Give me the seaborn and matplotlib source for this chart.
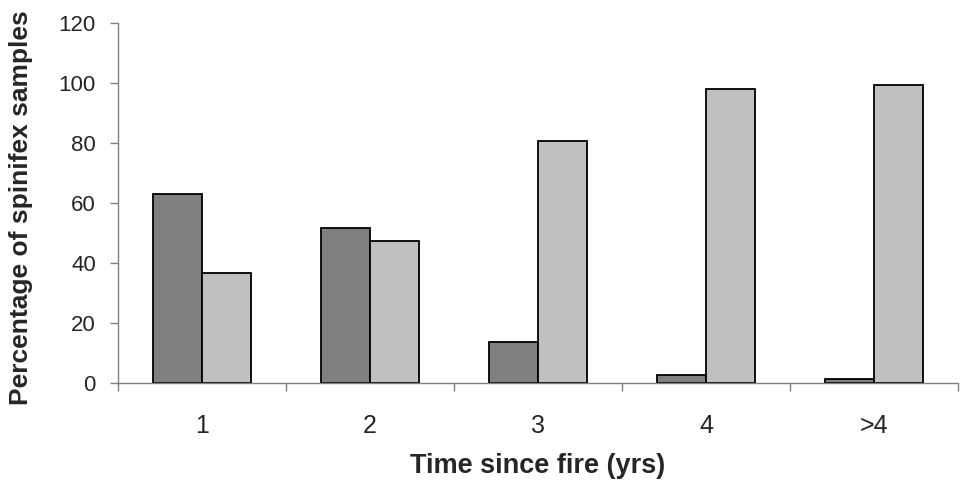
import numpy as np
import pandas as pd
import seaborn as sns
import matplotlib.pyplot as plt
from matplotlib.ticker import FixedLocator

# data
categories = ['1', '2', '3', '4', '>4']
series_names = ['Series 1', 'Series 2']
series1 = [63.1, 51.8, 13.7, 2.6, 1.3]
series2 = [36.6, 47.2, 80.5, 97.9, 99.2]
y_ticks = [0, 20, 40, 60, 80, 100, 120]

df = pd.DataFrame({
    'time': categories * 2,
    'series': [series_names[0]] * len(categories) + [series_names[1]] * len(categories),
    'pct': series1 + series2,
})

sns.set_style('white')
plt.rcParams['font.family'] = ['Liberation Sans', 'DejaVu Sans']

fig = plt.figure(figsize=(9.6, 4.88), dpi=100)
ax = fig.add_axes([0.123, 0.215, 0.875, 0.7385])

sns.barplot(data=df, x='time', y='pct', hue='series', order=categories,
            hue_order=series_names, palette=['#808080', '#C0C0C0'],
            width=0.586, gap=0, edgecolor='black', linewidth=1.3,
            saturation=1, legend=False, ax=ax)

ax.set_ylim(0, 120)
ax.set_xlim(-0.5, len(categories) - 0.5)
ax.set_yticks(y_ticks)
ax.set_yticklabels([str(t) for t in y_ticks], fontsize=16)
ax.set_xticks(range(len(categories)))
ax.set_xticklabels(categories, fontsize=18)
ax.xaxis.set_minor_locator(FixedLocator(np.arange(-0.5, len(categories), 1.0)))

ax.tick_params(axis='x', which='major', length=0, pad=22)
ax.tick_params(axis='x', which='minor', length=6, width=1, color='#808080', direction='out', bottom=True)
ax.tick_params(axis='y', length=6, width=1, color='#808080', direction='out', left=True, pad=10)

for side in ['top', 'right']:
    ax.spines[side].set_visible(False)
for side in ['left', 'bottom']:
    ax.spines[side].set_color('#808080')
    ax.spines[side].set_linewidth(1)

ax.set_ylabel('Percentage of spinifex samples', fontsize=19, fontweight='bold')
ax.yaxis.set_label_coords(-0.101, 0.488)
ax.set_xlabel('Time since fire (yrs)', fontsize=19.5, fontweight='bold', labelpad=11)

fig.savefig('out.png', dpi=100)
